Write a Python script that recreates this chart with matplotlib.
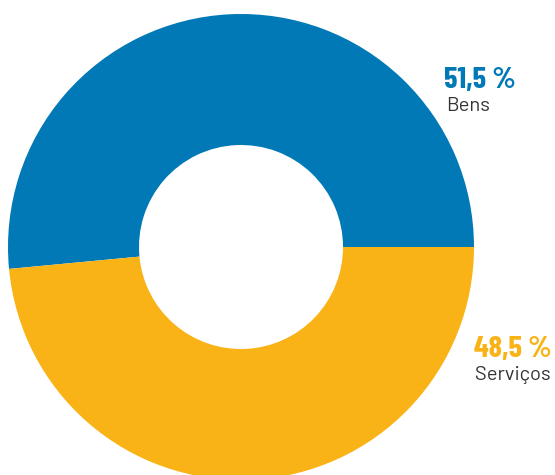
import matplotlib.pyplot as plt

# data
labels = ['Bens', 'Serviços']
values = [51.5, 48.5]
colors = ['#0079b6', '#f9b317']
pct_labels = ['51,5 %', '48,5 %']

fig = plt.figure(figsize=(5.55, 4.75), dpi=100)
ax = fig.add_axes([0, 0, 1, 1])

ax.pie(values, colors=colors, startangle=0, counterclock=True,
       center=(241, 228), radius=233,
       wedgeprops=dict(width=131, linewidth=0))

# pie resets limits, so set them afterwards
ax.set_xlim(0, 555)
ax.set_ylim(0, 475)
ax.set_aspect('equal')
ax.axis('off')

# labels next to the ring
pos = [(444, 387, 446, 364), (474, 118, 475, 95)]
for i in range(len(labels)):
    px, py, lx, ly = pos[i]
    ax.text(px, py, pct_labels[i], color=colors[i], fontsize=22,
            fontweight='bold', family=['Barlow Condensed', 'DejaVu Sans'],
            ha='left', va='baseline')
    ax.text(lx, ly, labels[i], color='#333333', fontsize=14.5,
            family=['Barlow', 'Roboto', 'DejaVu Sans'], ha='left', va='baseline')

fig.savefig('out.png', dpi=100)
